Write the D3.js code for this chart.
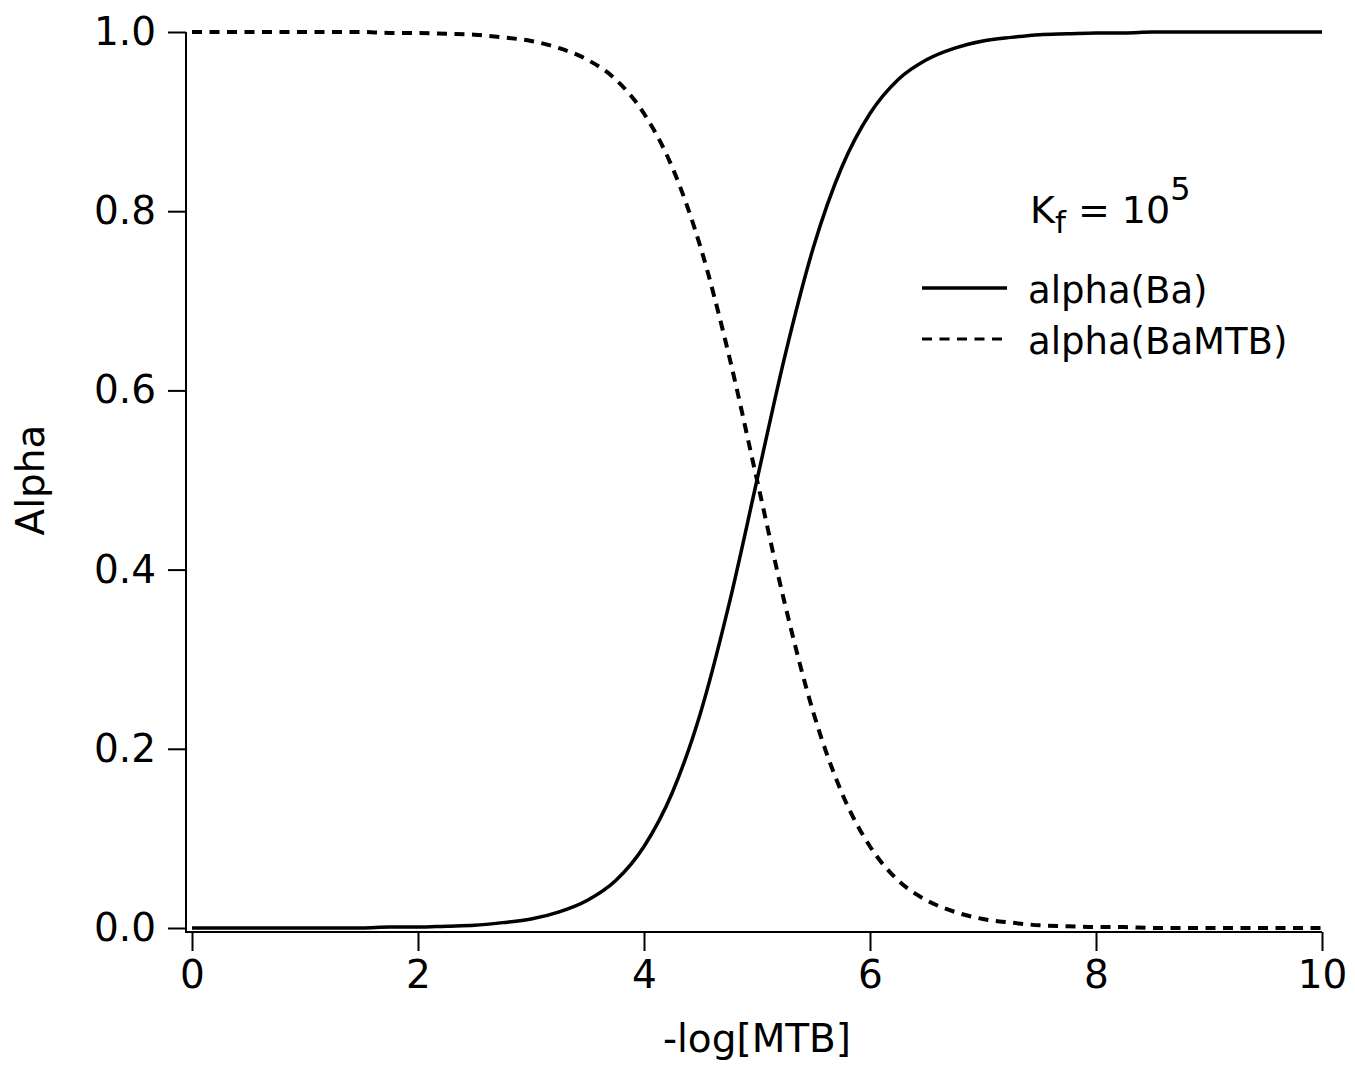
<!DOCTYPE html>
<html>
<head>
<meta charset="utf-8">
<script src="https://cdn.jsdelivr.net/npm/d3@7"></script>
<style>
  body { margin: 0; background: #fff; }
  svg { display: block; font-family: "DejaVu Sans", "Noto Sans", sans-serif; }
</style>
</head>
<body>
<div id="app"></div>
<script>
// -log[MTB] sample points
const pMTB = [0, 0.25, 0.5, 0.75, 1, 1.25, 1.5, 1.75, 2, 2.25, 2.5, 2.75, 3, 3.25, 3.5, 3.75,
  4, 4.25, 4.5, 4.75, 5, 5.25, 5.5, 5.75, 6, 6.25, 6.5, 6.75, 7, 7.25, 7.5, 7.75,
  8, 8.25, 8.5, 8.75, 9, 9.25, 9.5, 9.75, 10]

// values
const alphaBa = [0, 0, 0, 0, 0, 0, 0, 0.001, 0.001, 0.002, 0.003, 0.006, 0.010, 0.018, 0.031, 0.053,
  0.091, 0.151, 0.240, 0.360, 0.500, 0.640, 0.760, 0.849, 0.909, 0.947, 0.969, 0.982, 0.990, 0.994, 0.997, 0.998,
  0.999, 0.999, 1, 1, 1, 1, 1, 1, 1]
const alphaBaMTB = [1, 1, 1, 1, 1, 1, 1, 0.999, 0.999, 0.998, 0.997, 0.994, 0.990, 0.982, 0.969, 0.947,
  0.909, 0.849, 0.760, 0.640, 0.500, 0.360, 0.240, 0.151, 0.091, 0.053, 0.031, 0.018, 0.010, 0.006, 0.003, 0.002,
  0.001, 0.001, 0, 0, 0, 0, 0, 0, 0]

const xTicks = [0, 2, 4, 6, 8, 10]
const yTicks = [0, 0.2, 0.4, 0.6, 0.8, 1.0]
const seriesNames = ['alpha(Ba)', 'alpha(BaMTB)']

const W = 1355, H = 1065
const axisX = 186, axisY = 932

const svg = d3.create('svg').attr('width', W).attr('height', H)

const x = d3.scaleLinear().domain([0, 10]).range([192, 1322])
const y = d3.scaleLinear().domain([0, 1]).range([928, 32])

// axes
const yAxis = d3.axisLeft(y).tickValues(yTicks).tickFormat(d3.format('.1f'))
  .tickSize(18).tickPadding(12).tickSizeOuter(0)
const gy = svg.append('g').attr('transform', `translate(${axisX},0)`).call(yAxis)
gy.select('.domain').remove()

const xAxis = d3.axisBottom(x).tickValues(xTicks).tickFormat(d3.format('d'))
  .tickSize(19).tickPadding(9).tickSizeOuter(0)
const gx = svg.append('g').attr('transform', `translate(0,${axisY})`).call(xAxis)
gx.select('.domain').remove()

svg.selectAll('.tick line').attr('stroke', '#000').attr('stroke-width', 2)
svg.selectAll('.tick text').attr('font-size', 39).attr('fill', '#000')
  .attr('font-family', '"DejaVu Sans", sans-serif')

svg.append('path')
  .attr('d', `M${axisX},${y(1)}V${axisY}H${x(10)}`)
  .attr('fill', 'none').attr('stroke', '#000').attr('stroke-width', 2)

// curves
const data = pMTB.map((p, i) => ({ p, ba: alphaBa[i], bamtb: alphaBaMTB[i] }))

const lineBa = d3.line().x(d => x(d.p)).y(d => y(d.ba)).curve(d3.curveMonotoneX)
const lineBaMTB = d3.line().x(d => x(d.p)).y(d => y(d.bamtb)).curve(d3.curveMonotoneX)

svg.append('path').datum(data).attr('d', lineBaMTB)
  .attr('fill', 'none').attr('stroke', '#000').attr('stroke-width', 4)
  .attr('stroke-dasharray', '10,7.5')

svg.append('path').datum(data).attr('d', lineBa)
  .attr('fill', 'none').attr('stroke', '#000').attr('stroke-width', 3.5)

// axis titles
svg.append('text')
  .attr('x', 757).attr('y', 1052)
  .attr('text-anchor', 'middle').attr('font-size', 39)
  .text('-log[MTB]')

svg.append('text')
  .attr('transform', 'translate(44,480) rotate(-90)')
  .attr('text-anchor', 'middle').attr('font-size', 39)
  .text('Alpha')

// annotation Kf = 10^5
const kf = svg.append('text').attr('x', 1030).attr('y', 223).attr('font-size', 38)
kf.append('tspan').text('K')
kf.append('tspan').attr('font-size', 31).attr('dy', 10).text('f')
kf.append('tspan').attr('dy', -10).text(' = 10')
kf.append('tspan').attr('font-size', 32).attr('dy', -23).text('5')

// legend
const legend = svg.append('g')
const legendRows = [
  { name: seriesNames[0], y: 288, dash: null, w: 3.5 },
  { name: seriesNames[1], y: 339, dash: '10,7.5', w: 3 }
]
legendRows.forEach(r => {
  legend.append('line')
    .attr('x1', 922).attr('x2', 1007).attr('y1', r.y).attr('y2', r.y)
    .attr('stroke', '#000').attr('stroke-width', r.w)
    .attr('stroke-dasharray', r.dash)
  legend.append('text')
    .attr('x', 1028).attr('y', r.y + 15)
    .attr('font-size', 37)
    .text(r.name)
})

d3.select('#app').append(() => svg.node())
</script>
</body>
</html>
